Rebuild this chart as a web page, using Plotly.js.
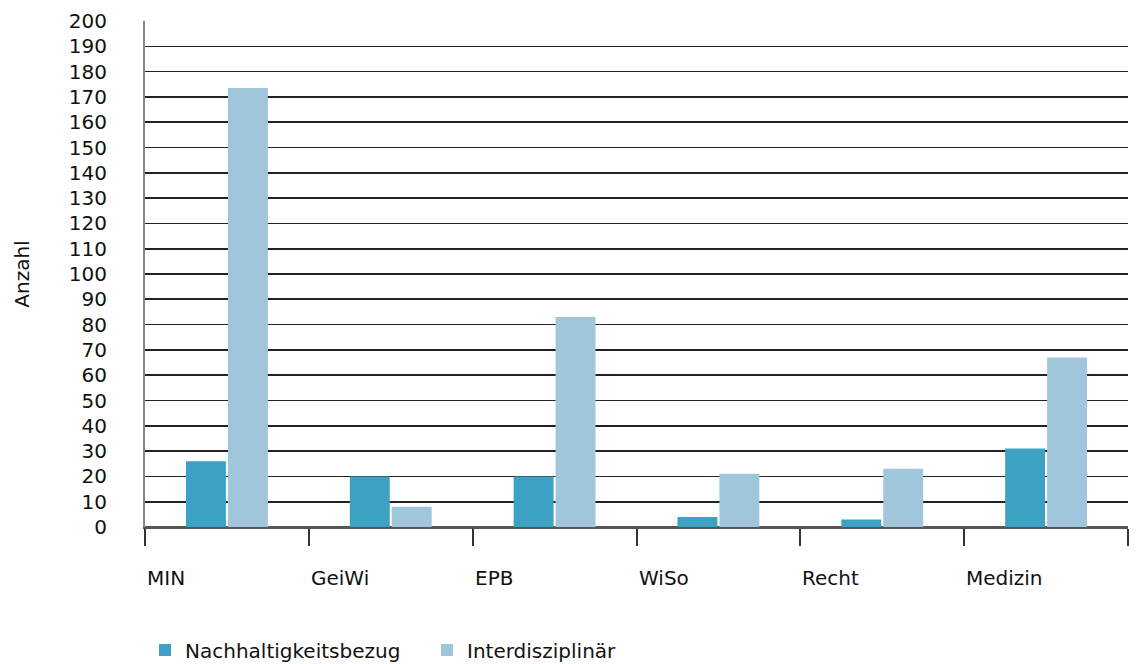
<!DOCTYPE html>
<html><head><meta charset="utf-8">
<script src="https://cdn.plot.ly/plotly-3.0.1.min.js"></script>
<style>html,body{margin:0;padding:0;background:#fff}#chart{width:1137px;height:664px}</style>
</head><body><div id="chart"></div>
<script>
const categories = ["MIN", "GeiWi", "EPB", "WiSo", "Recht", "Medizin"];
const nachhaltigkeit = [26, 20, 20, 4, 3, 31];
const interdisziplinaer = [173.5, 8, 83, 21, 23, 67];
const seriesNames = ["Nachhaltigkeitsbezug", "Interdisziplinär"];
const yTicks = [0,10,20,30,40,50,60,70,80,90,100,110,120,130,140,150,160,170,180,190,200];

const font = "DejaVu Sans, sans-serif";
const fs = 20;
const traces = [
  {type:"bar", x:categories, y:nachhaltigkeit, name:seriesNames[0], marker:{color:"#3ca1c4"}, hoverinfo:"none"},
  {type:"bar", x:categories, y:interdisziplinaer, name:seriesNames[1], marker:{color:"#9fc6db"}, hoverinfo:"none"}
];
const annotations = categories.map((c,i)=>({
  x:i-0.5, xref:"x", y:0, yref:"paper", yshift:-51, xanchor:"left", yanchor:"middle",
  text:c, showarrow:false, font:{family:font, size:fs, color:"#111"}
}));
const layout = {
  width:1137, height:664,
  margin:{l:145, r:9, t:21, b:137, autoexpand:false},
  paper_bgcolor:"#fff", plot_bgcolor:"#fff",
  barmode:"group", bargap:0.488, bargroupgap:0.048,
  font:{family:font, size:fs, color:"#111"},
  xaxis:{type:"category", showgrid:false, tickson:"boundaries", ticks:"outside", ticklen:17, tickwidth:2, tickcolor:"#333",
         showticklabels:false, showline:true, linecolor:"#555", linewidth:2, zeroline:false, range:[-0.5,5.5], fixedrange:true},
  yaxis:{range:[0,200], tickvals:yTicks, ticktext:yTicks.map(String), showgrid:true, gridcolor:"#222", gridwidth:1.6,
         showline:true, linecolor:"#888", linewidth:2, zeroline:true, zerolinecolor:"#555", zerolinewidth:2,
         ticks:"outside", ticklen:32, tickcolor:"rgba(0,0,0,0)",
         tickfont:{family:font, size:fs, color:"#111"},
         title:{text:"Anzahl", standoff:34, font:{family:font, size:fs, color:"#111"}}, fixedrange:true},
  showlegend:true,
  legend:{orientation:"h", x:0, xanchor:"left", yref:"container", y:0.021, yanchor:"middle",
          font:{family:font, size:fs, color:"#111"}, entrywidth:237, traceorder:"normal"},
  annotations:annotations
};
Plotly.newPlot("chart", traces, layout, {staticPlot:true, displayModeBar:false});
</script></body></html>
